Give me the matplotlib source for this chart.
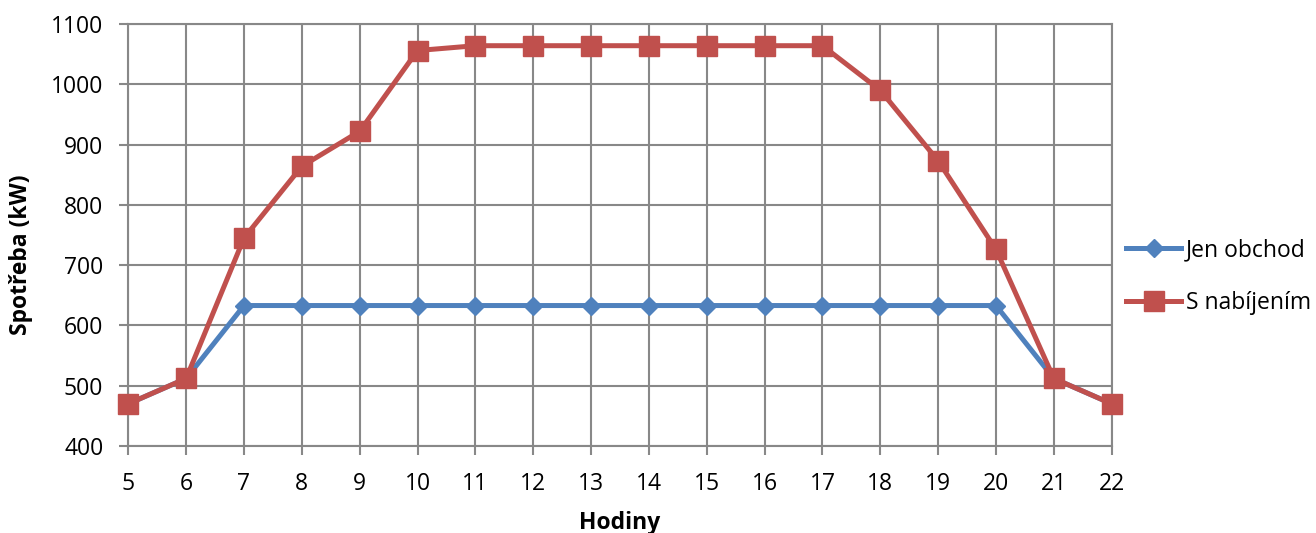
import matplotlib
matplotlib.use("Agg")
import matplotlib.pyplot as plt

hours = [5, 6, 7, 8, 9, 10, 11, 12, 13, 14, 15, 16, 17, 18, 19, 20, 21, 22]
jen_obchod = [470, 512, 633, 633, 633, 633, 633, 633, 633, 633, 633, 633, 633, 633, 633, 633, 512, 470]
s_nabijenim = [470, 512, 745, 864, 922, 1056, 1064, 1064, 1064, 1064, 1064, 1064, 1064, 990, 873, 726, 512, 470]
y_ticks = [400, 500, 600, 700, 800, 900, 1000, 1100]

plt.rcParams['font.family'] = ['Open Sans', 'DejaVu Sans']

W, H = 1316, 533
fig = plt.figure(figsize=(W / 100, H / 100), dpi=100)
ax = fig.add_axes([128.3 / W, 1 - 446 / H, (1111.7 - 128.3) / W, (446 - 24) / H])

grid_c = '#888888'
ax.plot(hours, jen_obchod, color='#4F81BD', lw=3.6, marker='D', markersize=9.5,
        label='Jen obchod', zorder=3, clip_on=False, solid_joinstyle='round')
ax.plot(hours, s_nabijenim, color='#C0504D', lw=3.6, marker='s', markersize=14,
        label='S nabíjením', zorder=4, clip_on=False, solid_joinstyle='round')

ax.set_xlim(5, 22)
ax.set_ylim(400, 1100)
ax.set_xticks(hours)
ax.set_yticks(y_ticks)
ax.grid(True, color=grid_c, lw=1.5)
ax.set_axisbelow(True)
for s in ax.spines.values():
    s.set_color(grid_c)
    s.set_linewidth(1.5)
ax.tick_params(axis='both', colors=grid_c, length=6.5, width=1.5, labelcolor='black',
               labelsize=16.5, direction='out')
ax.tick_params(axis='x', pad=12)
ax.tick_params(axis='y', pad=11.5)

ax.set_xlabel('Hodiny', fontsize=16.5, fontweight='bold', labelpad=11)
ax.set_ylabel('Spotřeba (kW)', fontsize=16.5, fontweight='bold')
ax.yaxis.set_label_coords(-0.0969, 0.4526)

leg = fig.legend(loc='center left', bbox_to_anchor=(1126 / W, 1 - 276.7 / H),
                 frameon=False, fontsize=16.5, handlelength=2.4, handletextpad=0.2,
                 labelspacing=1.28, borderpad=0, borderaxespad=0)

fig.savefig('out.png', dpi=100)
